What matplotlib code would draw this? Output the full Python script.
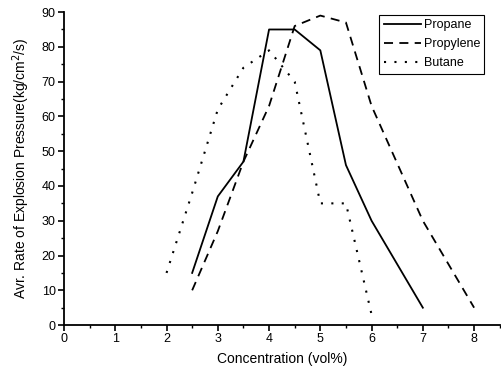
import matplotlib.pyplot as plt
from matplotlib.ticker import MultipleLocator

plt.rcParams['font.family'] = ['Liberation Sans', 'DejaVu Sans']

# Concentration (vol%) and avg. rate of explosion pressure (kg/cm2/s)
propane_x = [2.5, 3.0, 3.5, 4.0, 4.5, 5.0, 5.5, 6.0, 7.0]
propane_y = [15, 37, 47, 85, 85, 79, 46, 30, 5]

propylene_x = [2.5, 3.0, 3.5, 4.0, 4.5, 5.0, 5.5, 6.0, 7.0, 8.0]
propylene_y = [10, 27, 47, 63, 86, 89, 87, 63, 30, 5]

butane_x = [2.0, 2.5, 3.0, 3.5, 4.0, 4.5, 5.0, 5.5, 6.0]
butane_y = [15, 38, 62, 74, 79, 70, 35, 35, 3]

fig = plt.figure(figsize=(5.02, 3.78), dpi=100)
ax = fig.add_axes([0.1275, 0.14, 0.868, 0.828])

ax.plot(propane_x, propane_y, color='black', linestyle='-', linewidth=1.3, label='Propane')
ax.plot(propylene_x, propylene_y, color='black', linestyle=(0, (5, 3.5)), linewidth=1.3, label='Propylene')
ax.plot(butane_x, butane_y, color='black', linestyle=(0, (1, 4)), linewidth=1.5, label='Butane')

ax.set_xlim(0, 8.5)
ax.set_ylim(0, 90)
ax.xaxis.set_major_locator(MultipleLocator(1))
ax.xaxis.set_minor_locator(MultipleLocator(0.5))
ax.yaxis.set_major_locator(MultipleLocator(10))
ax.yaxis.set_minor_locator(MultipleLocator(5))
ax.tick_params(which='major', direction='out', length=4, width=1.2, labelsize=9, pad=2)
ax.tick_params(which='minor', direction='out', length=2.5, width=1)

ax.spines['top'].set_visible(False)
ax.spines['right'].set_visible(False)
ax.spines['left'].set_linewidth(1.3)
ax.spines['bottom'].set_linewidth(1.3)

ax.set_xlabel('Concentration (vol%)', fontsize=10, labelpad=5)
ax.set_ylabel('Avr. Rate of Explosion Pressure(kg/cm$^2$/s)', fontsize=10, labelpad=7)

leg = ax.legend(loc='upper right', bbox_to_anchor=(0.965, 0.96), bbox_transform=fig.transFigure,
                fontsize=9, frameon=True, fancybox=False, framealpha=1,
                handlelength=3, handletextpad=0.2, borderpad=0.35, labelspacing=0.55,
                borderaxespad=0)
leg.get_frame().set_edgecolor('black')
leg.get_frame().set_linewidth(0.8)

plt.savefig('out.png', dpi=100)
